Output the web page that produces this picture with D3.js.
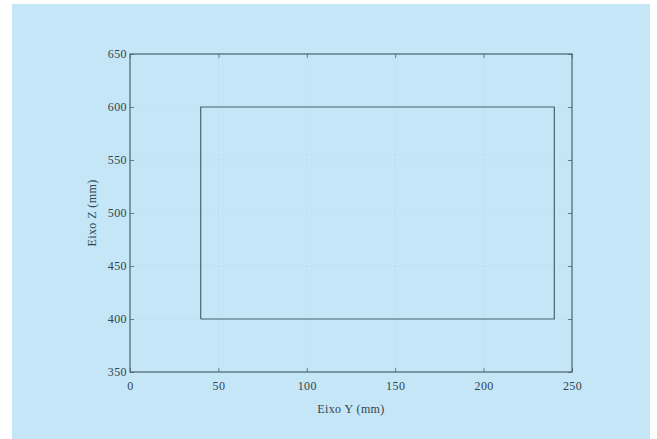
<!DOCTYPE html>
<html>
<head>
<meta charset="utf-8">
<script src="https://cdn.jsdelivr.net/npm/d3@7"></script>
<style>
  html, body { margin: 0; padding: 0; background: #ffffff; }
  svg { display: block; }
  .tick text { font-family: "Liberation Serif", "DejaVu Serif", serif; font-size: 12px; letter-spacing: 0.4px; fill: #34444e; }
</style>
</head>
<body>
<div id="chart"></div>
<script>
'use strict';

// ─── Data ───────────────────────────────────────────────────────────────────
const pathY = [40, 240, 240, 40, 40];      // Eixo Y (mm)
const pathZ = [400, 400, 600, 600, 400];   // Eixo Z (mm)
const xTicks = [0, 50, 100, 150, 200, 250];
const yTicks = [350, 400, 450, 500, 550, 600, 650];

// ─── Layout ─────────────────────────────────────────────────────────────────
const W = 657, H = 439;
const plot = { left: 130, right: 572, top: 54, bottom: 372 };
const ink = '#4b6370';

const svg = d3.select('#chart').append('svg')
    .attr('width', W).attr('height', H);

// scanned page panel
svg.append('rect')
    .attr('x', 12).attr('y', 4)
    .attr('width', 638).attr('height', H - 4)
    .attr('fill', '#c4e6f6');

const x = d3.scaleLinear().domain([0, 250]).range([plot.left, plot.right]);
const y = d3.scaleLinear().domain([350, 650]).range([plot.bottom, plot.top]);

// dotted grid (faint)
const grid = svg.append('g').attr('stroke', '#8aa2ad').attr('stroke-width', 0.6)
    .attr('stroke-dasharray', '1,3').attr('opacity', 0.45);
grid.selectAll('.gx').data(xTicks.slice(1, -1)).enter().append('line')
    .attr('x1', d => x(d)).attr('x2', d => x(d))
    .attr('y1', plot.top).attr('y2', plot.bottom);
grid.selectAll('.gy').data(yTicks.slice(1, -1)).enter().append('line')
    .attr('x1', plot.left).attr('x2', plot.right)
    .attr('y1', d => y(d)).attr('y2', d => y(d));

// axes (inward ticks)
const xAxis = svg.append('g').attr('transform', 'translate(0,' + plot.bottom + ')')
    .call(d3.axisBottom(x).tickValues(xTicks).tickSize(-4).tickPadding(9));
const yAxis = svg.append('g').attr('transform', 'translate(' + plot.left + ',0)')
    .call(d3.axisLeft(y).tickValues(yTicks).tickSize(-4).tickPadding(3));
const xTop = svg.append('g').attr('transform', 'translate(0,' + plot.top + ')')
    .call(d3.axisTop(x).tickValues(xTicks).tickSize(-4).tickFormat(''));
const yRight = svg.append('g').attr('transform', 'translate(' + plot.right + ',0)')
    .call(d3.axisRight(y).tickValues(yTicks).tickSize(-4).tickFormat(''));

[xAxis, yAxis, xTop, yRight].forEach(function (a) {
    a.select('.domain').remove();
    a.selectAll('.tick line').attr('stroke', ink).attr('stroke-width', 0.8);
});

// frame
svg.append('rect')
    .attr('x', plot.left).attr('y', plot.top)
    .attr('width', plot.right - plot.left).attr('height', plot.bottom - plot.top)
    .attr('fill', 'none').attr('stroke', ink).attr('stroke-width', 1.2);

// rectangle trajectory
const line = d3.line().x(d => x(d[0])).y(d => y(d[1]));
svg.append('path')
    .datum(pathY.map((v, i) => [v, pathZ[i]]))
    .attr('d', line)
    .attr('fill', 'none').attr('stroke', ink).attr('stroke-width', 1.2);

// axis labels
svg.append('text')
    .attr('x', 351).attr('y', 413)
    .attr('text-anchor', 'middle')
    .attr('font-family', '"Liberation Serif", serif').attr('font-size', 12)
    .attr('letter-spacing', 0.4)
    .attr('fill', '#34444e')
    .text('Eixo Y (mm)');
svg.append('text')
    .attr('transform', 'translate(96,213) rotate(-90)')
    .attr('text-anchor', 'middle')
    .attr('font-family', '"Liberation Serif", serif').attr('font-size', 12)
    .attr('letter-spacing', 0.4)
    .attr('fill', '#34444e')
    .text('Eixo Z (mm)');
</script>
</body>
</html>
